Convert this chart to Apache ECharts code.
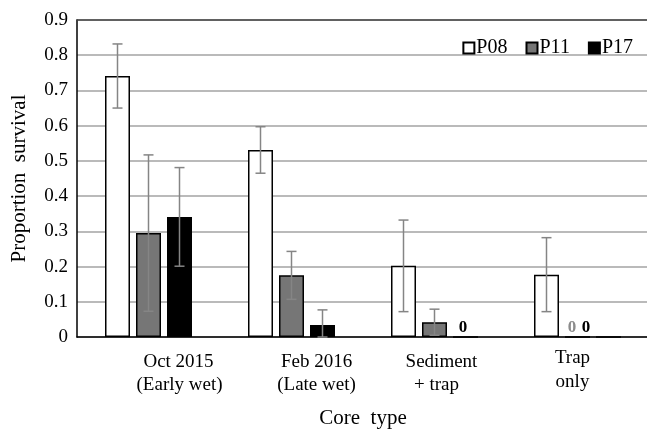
<!DOCTYPE html>
<html>
<head>
<meta charset="utf-8">
<script src="https://cdn.jsdelivr.net/npm/echarts@6/dist/echarts.min.js"></script>
<style>
  html, body { margin: 0; padding: 0; background: #fff; }
  #chart { width: 647px; height: 429px; }
</style>
</head>
<body>
<div id="chart"></div>
<script>
// ---- Data ----
const categories = ['Oct 2015\n(Early wet)', 'Feb 2016\n(Late wet)', 'Sediment\n+ trap', 'Trap\nonly'];
const seriesNames = ['P08', 'P11', 'P17'];
const p08 = [0.741, 0.531, 0.202, 0.177];
const p11 = [0.295, 0.175, 0.042, 0];
const p17 = [0.341, 0.034, 0, 0];
const p08Err = [0.091, 0.066, 0.130, 0.105];
const p11Err = [0.222, 0.068, 0.037, 0];
const p17Err = [0.140, 0.043, 0, 0];
const yTicks = [0, 0.9, 0.1]; // min, max, interval

// ---- Styles ----
const FONT = "'Liberation Serif', 'DejaVu Serif', serif";
const BAR_W = 25, BAR_STEP = 31;
const fills = ['#ffffff', '#767676', '#000000'];
const zeroLabelStyle = {
  '2_2': { offset: [-2.5, 0], color: '#000' },
  '1_3': { offset: [-5.5, 0], color: '#8c8c8c' },
  '2_3': { offset: [-22.5, 0], color: '#000' }
};
// per category label layout [line1 dx, line2 dx, line1 lineHeight, line2 lineHeight]
const labelLayout = [[30, 31, 32, 14], [25, 25, 32, 14], [7, 2, 32, 14], [-5, -5, 24, 24]];

const values = [p08, p11, p17];
const errs = [p08Err, p11Err, p17Err];

const rich = {};
labelLayout.forEach((l, i) => {
  ['a', 'b'].forEach((k, j) => {
    const dx = l[j];
    rich[k + i] = {
      fontFamily: FONT, fontSize: 19, color: '#000',
      lineHeight: l[2 + j],
      padding: dx >= 0 ? [0, 0, 0, 2 * dx] : [0, -2 * dx, 0, 0]
    };
  });
});

const barSeries = values.map((vals, s) => ({
  name: seriesNames[s],
  type: 'bar',
  barWidth: BAR_W,
  barGap: '24%',
  itemStyle: { color: fills[s], borderColor: '#000', borderWidth: 1.5 },
  data: vals.map((v, c) => {
    const st = zeroLabelStyle[s + '_' + c];
    if (!st) return v;
    return {
      value: v,
      label: {
        show: true, position: 'top', distance: 0, formatter: '{c}',
        offset: st.offset, color: st.color,
        fontFamily: FONT, fontSize: 17, fontWeight: 'bold'
      }
    };
  }),
  z: 2
}));

const errSeries = values.map((vals, s) => ({
  type: 'custom',
  name: seriesNames[s] + ' err',
  z: 5,
  data: vals.map((v, c) => [c, v, errs[s][c]]).filter(d => d[2] > 0),
  renderItem: function (params, api) {
    const c = api.value(0), v = api.value(1), e = api.value(2);
    const x = api.coord([c, v])[0] + (s - 1) * BAR_STEP;
    const yT = api.coord([c, v + e])[1];
    const yB = api.coord([c, Math.max(0, v - e)])[1];
    const st = { stroke: '#858585', lineWidth: 1.5 };
    return {
      type: 'group',
      children: [
        { type: 'line', shape: { x1: x, y1: yT, x2: x, y2: yB }, style: st },
        { type: 'line', shape: { x1: x - 5, y1: yT, x2: x + 5, y2: yT }, style: st },
        { type: 'line', shape: { x1: x - 5, y1: yB, x2: x + 5, y2: yB }, style: st }
      ]
    };
  }
}));

const chart = echarts.init(document.getElementById('chart'), null, { renderer: 'canvas' });
chart.setOption({
  animation: false,
  backgroundColor: '#fff',
  grid: { left: 77, right: -2, top: 20, bottom: 92, containLabel: false, outerBoundsMode: 'none' },
  legend: {
    data: seriesNames,
    right: 9, top: 33,
    itemWidth: 11, itemHeight: 11, itemGap: 18,
    icon: 'rect',
    textStyle: { fontFamily: FONT, fontSize: 20, color: '#000', padding: [0, 0, 0, -3] }
  },
  xAxis: [{
    type: 'category',
    data: categories,
    name: 'Core  type',
    nameLocation: 'middle',
    nameGap: 71,
    nameTextStyle: { fontFamily: FONT, fontSize: 21, color: '#000' },
    axisLine: { lineStyle: { color: '#000', width: 1.5 } },
    axisTick: { show: false },
    axisLabel: {
      interval: 0, margin: 9,
      formatter: function (val, idx) {
        const parts = val.split('\n');
        return '{a' + idx + '|' + parts[0] + '}\n{b' + idx + '|' + parts[1] + '}';
      },
      rich: rich
    }
  }, {
    type: 'category',
    data: categories,
    position: 'top',
    axisLine: { lineStyle: { color: '#444', width: 1.5 } },
    axisTick: { show: false },
    axisLabel: { show: false }
  }],
  yAxis: {
    type: 'value',
    min: yTicks[0], max: yTicks[1], interval: yTicks[2],
    name: 'Proportion  survival',
    nameLocation: 'middle',
    nameGap: 47,
    nameTextStyle: { fontFamily: FONT, fontSize: 21, color: '#000' },
    axisLine: { show: true, lineStyle: { color: '#000', width: 1.5 } },
    axisTick: { show: false },
    axisLabel: { fontFamily: FONT, fontSize: 19, color: '#000', margin: 9 },
    splitLine: { lineStyle: { color: '#a3a3a3', width: 1.5 } }
  },
  series: barSeries.concat(errSeries)
});
</script>
</body>
</html>
